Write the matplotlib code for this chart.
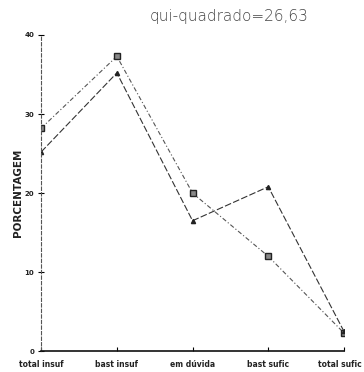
import matplotlib
matplotlib.use('Agg')
import matplotlib.pyplot as plt
import matplotlib.transforms as mtransforms

categorias = ['total insuf', 'bast insuf', 'em dúvida', 'bast sufic', 'total sufic']
serie_a = [28.2, 37.3, 20.0, 12.0, 2.3]
serie_b = [25.2, 35.2, 16.5, 20.8, 2.5]
yticks = [0, 10, 20, 30, 40]

fig = plt.figure(figsize=(3.64, 3.72), dpi=100)
ax = fig.add_axes([0.113, 0.056, 0.832, 0.85])

x = list(range(len(categorias)))
ax.plot(x, serie_a, color='#555555', linestyle=(0, (4, 2, 1, 2)), linewidth=0.8,
        marker='s', markersize=4, markerfacecolor='#888888', markeredgecolor='#222222')
ax.plot(x, serie_b, color='#333333', linestyle=(0, (6, 2)), linewidth=0.8,
        marker='^', markersize=3, markerfacecolor='#222222', markeredgecolor='#222222')

ax.set_xlim(0, 4)
ax.set_ylim(0, 40)
ax.set_xticks(x)
ax.set_xticklabels(categorias, fontsize=5.5, fontweight='bold', color='#222222')
ax.set_yticks(yticks)
ax.set_yticklabels([str(v) for v in yticks], fontsize=5, fontweight='bold', color='#222222')
ax.tick_params(axis='x', direction='in', length=3, pad=6)
ax.tick_params(axis='y', direction='inout', length=4, pad=3)

# a ultima etiqueta fica colada na borda, puxar um pouco para dentro
last = ax.get_xticklabels()[-1]
last.set_transform(last.get_transform() + mtransforms.ScaledTranslation(-4 / 100, 0, fig.dpi_scale_trans))

for s in ['top', 'right']:
    ax.spines[s].set_visible(False)
ax.spines['left'].set_linestyle((0, (3, 2)))
ax.spines['left'].set_color('#555555')
ax.spines['left'].set_linewidth(0.8)
ax.spines['bottom'].set_color('#111111')
ax.spines['bottom'].set_linewidth(1.2)

ax.set_ylabel('PORCENTAGEM', fontsize=7.5, fontweight='bold', color='#222222', labelpad=1)
fig.text(0.63, 0.955, 'qui-quadrado=26,63', fontsize=11, color='#444444',
         ha='center', va='center', fontweight='light')

fig.savefig('out.png', dpi=100)
